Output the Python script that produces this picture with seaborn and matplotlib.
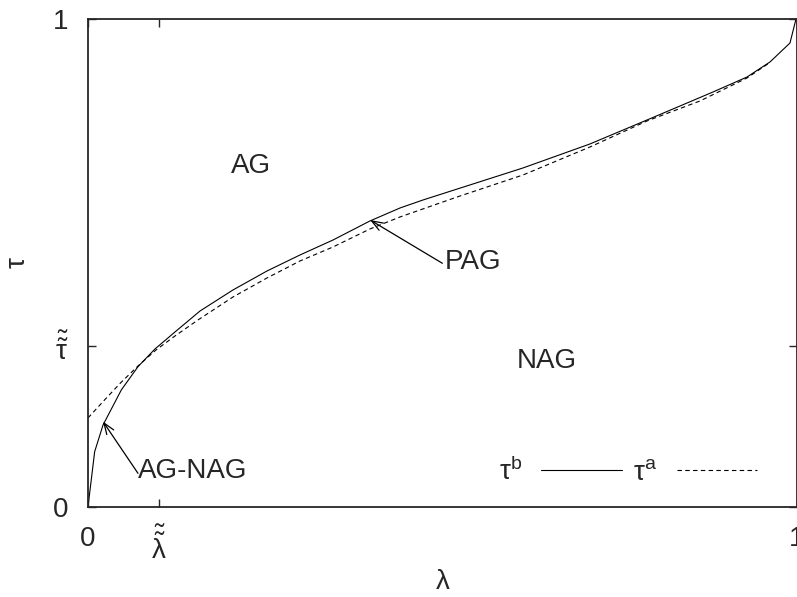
import numpy as np
import pandas as pd
import matplotlib
matplotlib.use("Agg")
import matplotlib.pyplot as plt
import seaborn as sns

# curve tau^b (solid)
lam_b = [0.0, 0.0094, 0.0212, 0.047, 0.0705, 0.0945, 0.1227, 0.158, 0.2045,
         0.2525, 0.299, 0.3456, 0.3977, 0.4401, 0.4725, 0.543, 0.6135, 0.708,
         0.7884, 0.835, 0.8815, 0.9295, 0.9619, 0.9901, 0.9986]
tau_b = [0.0, 0.1133, 0.168, 0.2398, 0.2875, 0.3238, 0.3586, 0.4016, 0.4447,
         0.4836, 0.5164, 0.5471, 0.5861, 0.6127, 0.6291, 0.6619, 0.6947, 0.7439,
         0.793, 0.8217, 0.8504, 0.8811, 0.9119, 0.9508, 1.0]

# curve tau^a (dashed)
lam_a = [0.0, 0.024, 0.0465, 0.0705, 0.0959, 0.1227, 0.1551, 0.2045, 0.2525,
         0.299, 0.3456, 0.3977, 0.4401, 0.5205, 0.6135, 0.708, 0.7884, 0.8632,
         0.9295, 0.9619]
tau_a = [0.1824, 0.2203, 0.2551, 0.2889, 0.3217, 0.3504, 0.3832, 0.4303, 0.4693,
         0.5041, 0.5328, 0.5697, 0.5943, 0.6352, 0.6803, 0.7377, 0.791, 0.832,
         0.8791, 0.9109]

xtick_pos = [0, 0.10, 1]
xtick_lab = ["0", r"$\mathregular{\tilde{\tilde{λ}}}$", "1"]
ytick_pos = [0, 0.33, 1]
ytick_lab = ["0", r"$\mathregular{\tilde{\tilde{τ}}}$", "1"]

sns.set_style("ticks")
plt.rcParams["font.family"] = ["Liberation Sans", "DejaVu Sans"]
plt.rcParams["font.size"] = 20
plt.rcParams["mathtext.fontset"] = "dejavusans"

df_b = pd.DataFrame({"lam": lam_b, "tau": tau_b})
df_a = pd.DataFrame({"lam": lam_a, "tau": tau_a})

fig = plt.figure(figsize=(7.97, 5.97), dpi=100)
ax = fig.add_axes([0.1104, 0.1508, 0.8896, 0.8174])

sns.lineplot(data=df_b, x="lam", y="tau", sort=False, estimator=None,
             color="black", lw=0.8, label=r"$\mathregular{τ^b}$", ax=ax)
sns.lineplot(data=df_a, x="lam", y="tau", sort=False, estimator=None,
             color="black", lw=0.8, linestyle=(0, (4, 3)),
             label=r"$\mathregular{τ^a}$", ax=ax)

ax.set_xlim(0, 1)
ax.set_ylim(0, 1)
ax.set_xticks(xtick_pos)
ax.set_xticklabels(xtick_lab)
ax.set_yticks(ytick_pos)
ax.set_yticklabels(ytick_lab)
ax.tick_params(direction="in", length=6, width=1, top=True, right=True,
               labelsize=20, pad=14)
for s in ax.spines.values():
    s.set_linewidth(1.3)
    s.set_visible(True)

ax.set_xlabel("λ", fontsize=20, labelpad=3)
ax.set_ylabel("τ", fontsize=20, labelpad=16)

# region labels
ax.text(0.2306, 0.699, "AG", ha="center", va="center", fontsize=20)
ax.text(0.647, 0.300, "NAG", ha="center", va="center", fontsize=20)
ax.text(0.5035, 0.501, "PAG", ha="left", va="center", fontsize=20)
ax.text(0.0705, 0.074, "AG-NAG", ha="left", va="center", fontsize=20)

arrow = dict(arrowstyle="->,head_length=0.4,head_width=0.15", color="black",
             lw=0.9, shrinkA=0, shrinkB=0)
ax.annotate("", xy=(0.398, 0.588), xytext=(0.4998, 0.4994), arrowprops=arrow)
ax.annotate("", xy=(0.0212, 0.175), xytext=(0.0705, 0.069), arrowprops=arrow)

ax.legend(loc="center right", bbox_to_anchor=(0.944, 0.072), ncol=2,
          frameon=False, markerfirst=False, handlelength=2.9,
          handletextpad=0.7, columnspacing=0.4, borderpad=0,
          borderaxespad=0, fontsize=20)

fig.savefig("out.png", dpi=100)
